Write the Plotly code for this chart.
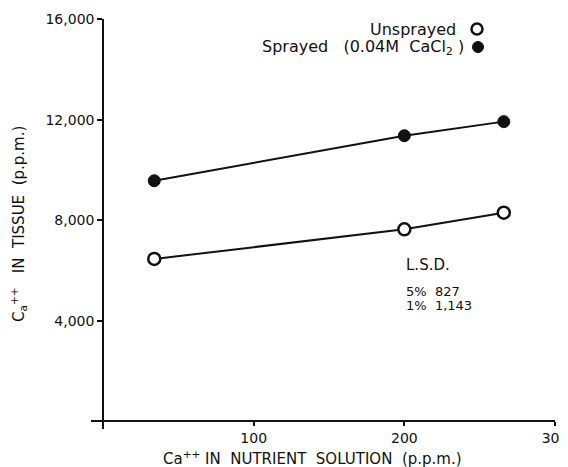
import plotly.graph_objects as go

# Data
nutrient_ca = [34, 200, 266]
unsprayed = [6460, 7640, 8300]
sprayed = [9570, 11360, 11920]
x_ticks = [100, 200, 300]
x_tick_labels = ["100", "200", "300"]
y_ticks = [4000, 8000, 12000, 16000]
y_tick_labels = ["4,000", "8,000", "12,000", "16,000"]
series_names = ["Unsprayed", "Sprayed   (0.04M  CaCl<sub>2</sub> )"]
lsd_lines = ["L.S.D.", "5%  827", "1%  1,143"]

FONT = "DejaVu Sans"
INK = "#111111"

# page has an 8px body margin; figure is sized to fit the window
OFF = 8
W, H = 568 - OFF, 467 - OFF
L, R, T, B = 83, 13, 11, 38

fig = go.Figure()
fig.add_trace(go.Scatter(
    x=nutrient_ca, y=sprayed, mode="lines+markers", name=series_names[1],
    line=dict(color=INK, width=2),
    marker=dict(symbol="circle", size=12, color=INK, line=dict(color=INK, width=1)),
    showlegend=False, cliponaxis=False))
fig.add_trace(go.Scatter(
    x=nutrient_ca, y=unsprayed, mode="lines+markers", name=series_names[0],
    line=dict(color=INK, width=2),
    marker=dict(symbol="circle", size=12, color="white", line=dict(color=INK, width=2.5)),
    showlegend=False, cliponaxis=False))

fig.update_layout(
    width=W, height=H,
    margin=dict(l=L, r=R, t=T, b=B, autoexpand=False),
    paper_bgcolor="white", plot_bgcolor="white",
    font=dict(family=FONT, color=INK, size=13),
    showlegend=False,
    xaxis=dict(range=[-8, 300], tickvals=x_ticks, ticktext=x_tick_labels,
               showgrid=False, zeroline=False, showline=True, linecolor=INK, linewidth=1.5,
               ticks="outside", ticklen=4, tickwidth=1.5, tickcolor=INK,
               anchor="free", position=0.0183, automargin=False,
               ticklabeloverflow="allow",
               tickfont=dict(family=FONT, size=14, color=INK)),
    yaxis=dict(range=[-300, 16000], tickvals=y_ticks, ticktext=y_tick_labels,
               showgrid=False, zeroline=False, showline=True, linecolor=INK, linewidth=1.5,
               ticks="outside", ticklen=5, tickwidth=1.5, tickcolor=INK,
               anchor="free", position=0.0259, automargin=False,
               ticklabeloverflow="allow",
               tickfont=dict(family=FONT, size=14, color=INK)),
)

def px(xp):
    return (xp - OFF - L) / (W - L - R)

def py(yp):
    return 1 - (yp - OFF - T) / (H - T - B)

def ann(text, x, y, size, xanchor="left", angle=0):
    return dict(text=text, x=px(x), y=py(y), xref="paper", yref="paper",
                xanchor=xanchor, yanchor="middle", textangle=angle, showarrow=False,
                font=dict(family=FONT, size=size, color=INK))

anns = [
    ann("C<sub>a</sub><sup>++</sup>   IN  TISSUE  (p.p.m.)", 18, 224, 15, "center", -90),
    ann("Ca<sup>++</sup> IN  NUTRIENT  SOLUTION  (p.p.m.)", 312, 458, 15, "center"),
    ann(series_names[0], 458, 29, 16, "right"),
    ann(series_names[1], 466, 47, 16, "right"),
    ann(lsd_lines[0], 404, 265, 15),
    ann(lsd_lines[1], 404, 291, 13),
    ann(lsd_lines[2], 404, 305, 13),
]
fig.update_layout(annotations=anns)

# legend symbols
r = 5.5
fig.add_shape(type="circle", xref="paper", yref="paper",
              x0=px(477 - r), x1=px(477 + r), y0=py(29 + r), y1=py(29 - r),
              line=dict(color=INK, width=2.5), fillcolor="white")
fig.add_shape(type="circle", xref="paper", yref="paper",
              x0=px(478 - r), x1=px(478 + r), y0=py(47 + r), y1=py(47 - r),
              line=dict(color=INK, width=1), fillcolor=INK)

fig.write_html("out.html")
